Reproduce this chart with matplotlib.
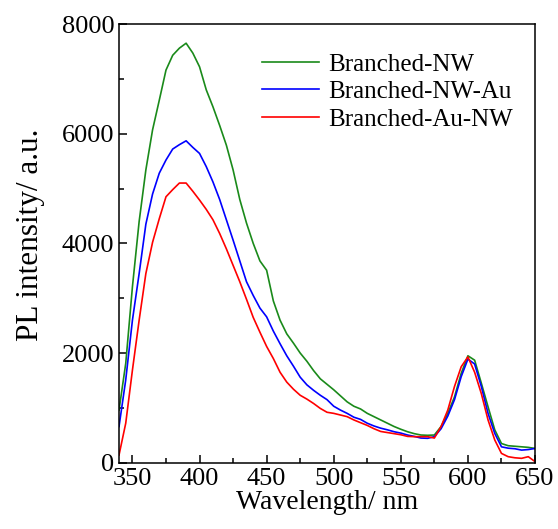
import numpy as np
import matplotlib
matplotlib.use("Agg")
import matplotlib.pyplot as plt
from matplotlib.ticker import MultipleLocator

# wavelength grid (nm) and PL intensities
wavelength = np.arange(340, 651, 5)

branched_nw = [960, 1810, 3210, 4400, 5340, 6070, 6610, 7160, 7430, 7560,
               7650, 7470, 7220, 6800, 6490, 6150, 5790, 5340, 4800, 4370,
               4000, 3680, 3510, 2950, 2600, 2350, 2180, 2000, 1850, 1680,
               1530, 1430, 1330, 1220, 1110, 1030, 980, 900, 840, 780,
               720, 660, 610, 565, 530, 505, 500, 505, 660, 900,
               1200, 1630, 1950, 1870, 1450, 1020, 600, 350, 310, 300,
               290, 280, 260]

branched_nw_au = [660, 1510, 2600, 3450, 4350, 4900, 5280, 5520, 5720, 5800,
                  5870, 5750, 5640, 5400, 5120, 4800, 4430, 4060, 3680, 3300,
                  3050, 2820, 2660, 2400, 2170, 1950, 1760, 1560, 1420, 1320,
                  1230, 1150, 1030, 960, 900, 830, 790, 720, 670, 630,
                  600, 565, 540, 505, 480, 450, 445, 475, 620, 850,
                  1150, 1570, 1890, 1800, 1390, 900, 535, 290, 265, 255,
                  230, 240, 260]

branched_au_nw = [140, 720, 1690, 2600, 3450, 4020, 4450, 4850, 4980, 5100,
                  5100, 4950, 4790, 4620, 4430, 4180, 3900, 3600, 3300, 2980,
                  2650, 2380, 2120, 1900, 1650, 1470, 1340, 1230, 1160, 1080,
                  990, 920, 900, 870, 840, 780, 730, 680, 620, 570,
                  550, 530, 510, 480, 475, 475, 475, 450, 660, 960,
                  1390, 1750, 1930, 1650, 1260, 780, 415, 170, 110, 90,
                  80, 110, 20]

labels = ["Branched-NW", "Branched-NW-Au", "Branched-Au-NW"]
colors = ["#1a8a1a", "#0000ff", "#ff0000"]

plt.rcParams['font.family'] = ['Liberation Serif', 'DejaVu Serif']

fig = plt.figure(figsize=(5.58, 5.29), dpi=100)
ax = fig.add_axes([0.2133, 0.1253, 0.7455, 0.8293])

for y, lab, c in zip([branched_nw, branched_nw_au, branched_au_nw], labels, colors):
    ax.plot(wavelength, y, color=c, lw=1.2, label=lab)

ax.set_xlim(340, 650)
ax.set_ylim(0, 8000)
ax.xaxis.set_major_locator(MultipleLocator(50))
ax.xaxis.set_minor_locator(MultipleLocator(25))
ax.yaxis.set_major_locator(MultipleLocator(2000))
ax.yaxis.set_minor_locator(MultipleLocator(1000))
ax.tick_params(which='both', direction='in', labelsize=19, width=1.1)
ax.tick_params(which='major', length=6)
ax.tick_params(which='minor', length=3.5)
for s in ax.spines.values():
    s.set_linewidth(1.1)

ax.set_xlabel("Wavelength/ nm", fontsize=20, labelpad=0)
ax.set_ylabel("PL intensity/ a.u.", fontsize=22.5, labelpad=12)
ax.yaxis.label.set_y(0.52)

ax.legend(loc='upper right', bbox_to_anchor=(1.0, 0.985), frameon=False,
          fontsize=18, handlelength=2.3, handletextpad=0.35, labelspacing=0.2)

fig.savefig("out.png", dpi=100)
